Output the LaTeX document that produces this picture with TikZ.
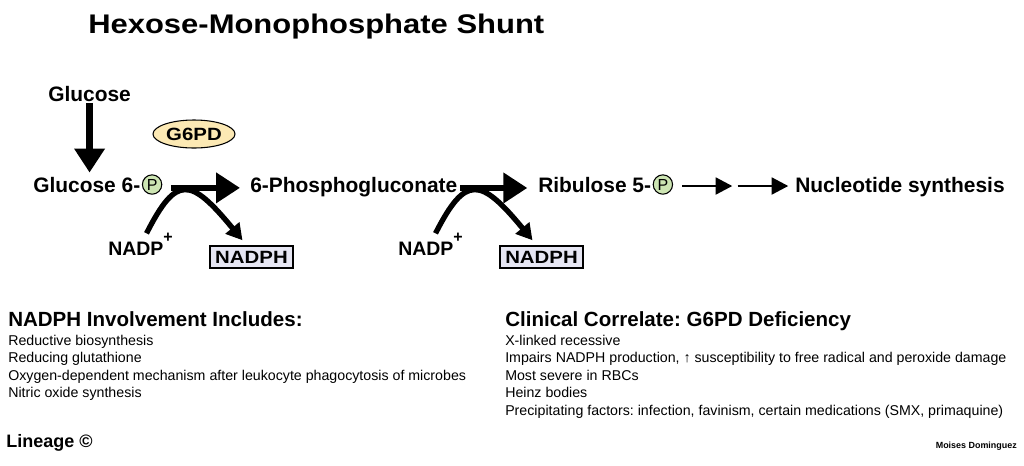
\documentclass[tikz,border=0pt]{standalone}
\usepackage{fontspec}
\setmainfont{Liberation Sans}
\newfontfamily\widefont[FakeStretch=1.15]{Liberation Sans}
\usetikzlibrary{arrows.meta,positioning,shapes.geometric}
\definecolor{enzyellow}{HTML}{FCE9B4}
\definecolor{phosgreen}{HTML}{CDE5B3}
\definecolor{nadphblue}{HTML}{E6E6F3}
\tikzset{
  lbl/.style={inner sep=0pt, font=\fontsize{15.7}{18}\selectfont\bfseries},
  phos/.style={circle, draw, line width=0.8pt, fill=phosgreen, minimum size=14.5pt,
               inner sep=0pt, font=\fontsize{12}{12}\selectfont},
  enzyme/.style={ellipse, draw, line width=0.8pt, fill=enzyellow, minimum width=61.5pt,
                 minimum height=21pt, inner sep=0pt,
                 font=\widefont\fontsize{13.3}{15}\selectfont\bfseries},
  cofac/.style={draw, line width=1.1pt, fill=nadphblue, minimum width=62pt,
                minimum height=16.5pt, inner sep=0pt,
                font=\widefont\fontsize{13.3}{15}\selectfont\bfseries},
  nadp/.style={inner sep=0pt, font=\fontsize{14.6}{16}\selectfont\bfseries},
  head/.style={inner sep=0pt, font=\fontsize{15.4}{18}\selectfont\bfseries},
  body/.style={inner sep=0pt, align=left, font=\fontsize{10.65}{13.1}\selectfont},
  bigar/.style={-{Triangle[length=18pt,width=22pt]}, line width=5pt},
  thinar/.style={-{Triangle[length=12.5pt,width=12.5pt]}, line width=2.2pt},
  curvar/.style={-{Triangle[length=12pt,width=13pt]}, line width=4pt},
}
\newcommand{\plussup}{\raisebox{9.75pt}{\fontsize{12}{12}\selectfont\bfseries +}}
\frenchspacing

\begin{document}
\begin{tikzpicture}[x=0.75pt, y=-0.75pt]
  \useasboundingbox (0,0) rectangle (1024,465);

  % title
  \node[inner sep=0pt, anchor=base west, font=\widefont\fontsize{20.2}{22}\selectfont\bfseries]
    (title) at (88,33) {Hexose-Monophosphate Shunt};

  % pathway
  \node[lbl, anchor=base west] (glc) at (48,101) {Glucose};
  \node[lbl, anchor=base west] (g6p) at (33,192) {Glucose 6-};
  \node[phos, right=1pt of g6p] (ph1) {P};
  \node[lbl, anchor=base west] (pgl) at (250,192) {6-Phosphogluconate};
  \node[lbl, anchor=base west] (rbl) at (538,192) {Ribulose 5-};
  \node[phos, right=1pt of rbl] (ph2) {P};
  \node[lbl, anchor=base west] (nuc) at (795,192) {Nucleotide synthesis};
  \node[enzyme] (enz) at (194,134) {G6PD};

  \node[nadp, anchor=base west] (nadp1) at (108,255) {NADP\plussup};
  \node[cofac] (nadph1) at (251.5,257) {NADPH};
  \node[nadp, anchor=base west] (nadp2) at (398,255) {NADP\plussup};
  \node[cofac] (nadph2) at (541.5,257) {NADPH};
  \coordinate (gap) at (735,186);

  \draw[bigar] ([yshift=-1.5pt]glc.south) -- ([yshift=3pt]glc.south |- g6p.north);
  \draw[bigar] ([xshift=6.5pt,yshift=-2.5pt]ph1.east) -- ([xshift=-7.5pt,yshift=-2.5pt]ph1.east -| pgl.west);
  \draw[bigar] ([xshift=2pt,yshift=-1pt]pgl.east) -- ([xshift=-8pt,yshift=-1pt]pgl.east -| rbl.west);
  \draw[thinar] ([xshift=7pt]ph2.east |- gap) -- ([xshift=-2pt]gap);
  \draw[thinar] ([xshift=2pt]gap) -- ([xshift=-5pt]gap -| nuc.west);

  \draw[curvar] ([shift={(6,1)}]nadp1.north) .. controls +(30,-59) and +(-52,-63)
    .. ([shift={(-9,-5)}]nadph1.north);
  \draw[curvar] ([shift={(5,1)}]nadp2.north) .. controls +(30,-59) and +(-52,-63)
    .. ([shift={(-9,-5)}]nadph2.north);

  % notes
  \node[head, anchor=base west] (invhead) at (8,326) {NADPH Involvement Includes:};
  \node[body, anchor=north west] (invlist) at (8,334.6) {Reductive biosynthesis\\
    Reducing glutathione\\
    Oxygen-dependent mechanism after leukocyte phagocytosis of microbes\\
    Nitric oxide synthesis};
  \node[head, anchor=base west] (clinhead) at (505,326) {Clinical Correlate: G6PD Deficiency};
  \node[body, anchor=north west] (clinlist) at (505,334.6) {X-linked recessive\\
    Impairs NADPH production, ↑ susceptibility to free radical and peroxide damage\\
    Most severe in RBCs\\
    Heinz bodies\\
    Precipitating factors: infection, favinism, certain medications (SMX, primaquine)};

  \node[inner sep=0pt, anchor=base west, font=\fontsize{13.5}{15}\selectfont\bfseries]
    (lineage) at (6,447) {Lineage ©};
  \node[inner sep=0pt, anchor=base east, font=\fontsize{6.7}{8}\selectfont\bfseries]
    (credit) at (1017,448) {Moises Dominguez};
\end{tikzpicture}
\end{document}
